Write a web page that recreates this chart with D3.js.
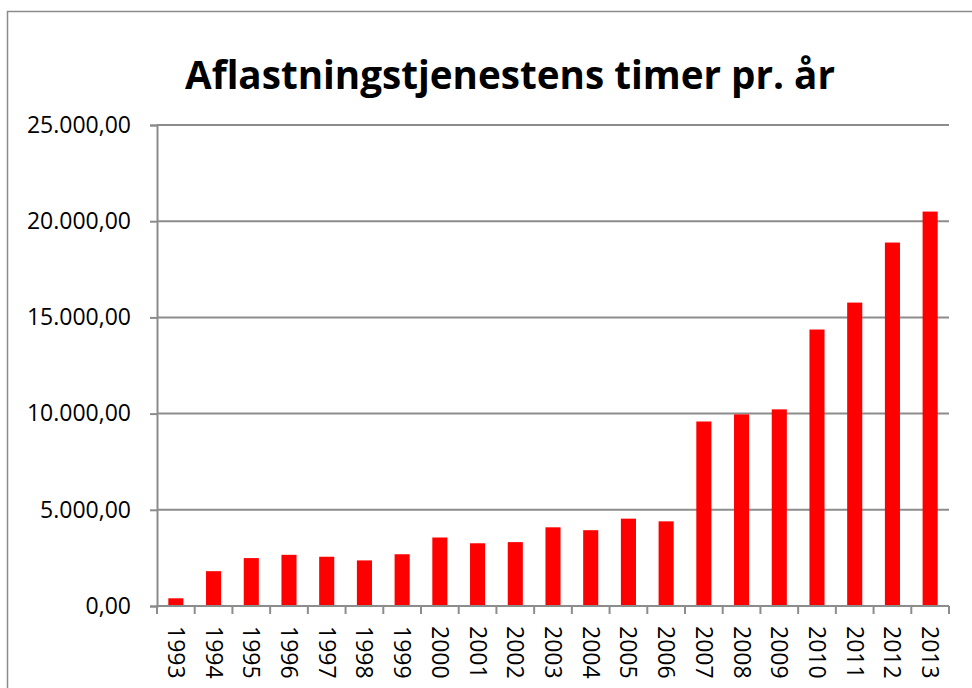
<!DOCTYPE html>
<html>
<head>
<meta charset="utf-8">
<script src="https://cdn.jsdelivr.net/npm/d3@7"></script>
<style>
  body { margin: 0; background: #fff; }
  svg { display: block; }
</style>
</head>
<body>
<script>
const width = 972;
const height = 688;

const chartTitle = "Aflastningstjenestens timer pr. år";
const years = ["1993", "1994", "1995", "1996", "1997", "1998", "1999", "2000", "2001", "2002",
    "2003", "2004", "2005", "2006", "2007", "2008", "2009", "2010", "2011", "2012", "2013"];
const hours = [400, 1810, 2490, 2660, 2560, 2370, 2690, 3560, 3260, 3320,
    4090, 3940, 4540, 4400, 9590, 9960, 10220, 14370, 15770, 18890, 20500];
const yTicks = [0, 5000, 10000, 15000, 20000, 25000];

const plotLeft = 157;
const plotRight = 949;
const plotTop = 125;
const plotBottom = 606;

// norwegian number format: 25.000,00
const noLocale = d3.formatLocale({ decimal: ",", thousands: ".", grouping: [3], currency: ["", " kr"] });
const fmt = noLocale.format(",.2f");

let svg = d3.select("body")
    .append("svg")
    .attr("width", width)
    .attr("height", height);

// outer chart border
svg.append("rect")
    .attr("x", 7.5)
    .attr("y", 11.5)
    .attr("width", 980)
    .attr("height", 700)
    .attr("fill", "none")
    .attr("stroke", "#8c8c8c")
    .attr("stroke-width", 1.5);

let x = d3.scaleBand()
    .domain(years)
    .range([plotLeft, plotRight])
    .paddingInner(0.6)
    .paddingOuter(0.3);

let y = d3.scaleLinear()
    .domain([0, 25000])
    .range([plotBottom, plotTop]);

// gridlines
svg.append("g")
    .selectAll("line")
    .data(yTicks)
    .join("line")
    .attr("x1", plotLeft)
    .attr("x2", plotRight)
    .attr("y1", d => y(d))
    .attr("y2", d => y(d))
    .attr("stroke", "#8c8c8c")
    .attr("stroke-width", 2);

// bars
svg.append("g")
    .selectAll("rect")
    .data(hours)
    .join("rect")
    .attr("x", (d, i) => x(years[i]))
    .attr("y", d => y(d))
    .attr("width", x.bandwidth())
    .attr("height", d => plotBottom - y(d))
    .attr("fill", "#ff0000");

// y axis
let yAxis = svg.append("g")
    .attr("transform", `translate(${plotLeft},0)`)
    .call(d3.axisLeft(y).tickValues(yTicks).tickFormat(fmt).tickSize(7).tickPadding(19));
yAxis.select(".domain").attr("stroke", "#8c8c8c").attr("stroke-width", 2);
yAxis.selectAll(".tick line").attr("stroke", "#8c8c8c").attr("stroke-width", 2);
yAxis.selectAll("text")
    .attr("font-family", "'Open Sans', sans-serif")
    .attr("font-size", 23)
    .attr("fill", "#000");

// x axis: ticks on category boundaries
const step = (plotRight - plotLeft) / years.length;
let xAxis = svg.append("g");
xAxis.append("line")
    .attr("x1", plotLeft)
    .attr("x2", plotRight)
    .attr("y1", plotBottom)
    .attr("y2", plotBottom)
    .attr("stroke", "#8c8c8c")
    .attr("stroke-width", 2);
xAxis.selectAll(".xtick")
    .data(d3.range(years.length + 1))
    .join("line")
    .attr("class", "xtick")
    .attr("x1", i => plotLeft + i * step)
    .attr("x2", i => plotLeft + i * step)
    .attr("y1", plotBottom)
    .attr("y2", plotBottom + 8)
    .attr("stroke", "#8c8c8c")
    .attr("stroke-width", 2);
xAxis.selectAll("text")
    .data(years)
    .join("text")
    .attr("transform", d => `translate(${x(d) + x.bandwidth() / 2},626) rotate(90)`)
    .attr("dy", "0.35em")
    .attr("font-family", "'Open Sans', sans-serif")
    .attr("font-size", 23)
    .attr("fill", "#000")
    .text(d => d);

// title
svg.append("text")
    .attr("x", 510)
    .attr("y", 89)
    .attr("text-anchor", "middle")
    .attr("font-family", "'Open Sans', sans-serif")
    .attr("font-weight", "bold")
    .attr("font-size", 40)
    .attr("textLength", 650)
    .attr("lengthAdjust", "spacingAndGlyphs")
    .attr("fill", "#000")
    .text(chartTitle);
</script>
</body>
</html>
